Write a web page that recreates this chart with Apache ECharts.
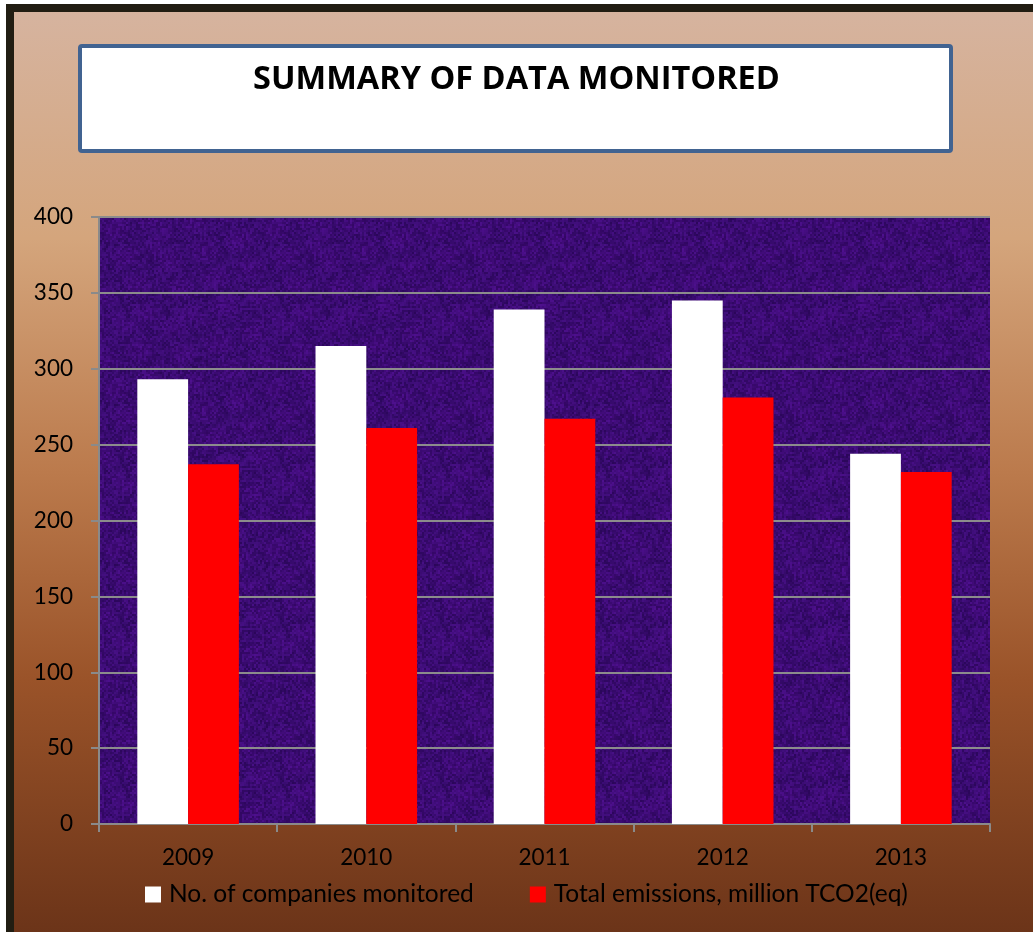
<!DOCTYPE html>
<html>
<head>
<meta charset="utf-8">
<script src="https://cdn.jsdelivr.net/npm/echarts@6/dist/echarts.min.js"></script>
<style>
  html, body { margin: 0; padding: 0; background: #ffffff; }
  #chart { width: 1033px; height: 932px; }
</style>
</head>
<body>
<div id="chart"></div>
<script>
// data
const years = ["2009", "2010", "2011", "2012", "2013"];
const companies = [293, 315, 339, 345, 244];
const emissions = [237, 261, 267, 281, 232];
const seriesNames = ["No. of companies monitored", "Total emissions, million TCO2(eq)"];

// purple "fabric" texture for the plot area (deterministic hash, decoration only)
function makeTexture() {
  const c = document.createElement("canvas");
  c.width = 160; c.height = 160;
  const ctx = c.getContext("2d");
  ctx.fillStyle = "#360b68";
  ctx.fillRect(0, 0, 160, 160);
  for (let y = 0; y < 160; y += 2) {
    for (let x = 0; x < 160; x += 2) {
      const h = Math.abs(Math.sin(x * 12.9898 + y * 78.233) * 43758.5453) % 1;
      const v = Math.abs(Math.sin(x * 0.11 + y * 0.07) + Math.cos(x * 0.05 - y * 0.13));
      const r = Math.round(35 + h * 45 + v * 8);
      const g = Math.round(4 + h * 16);
      const b = Math.round(80 + h * 70 + v * 10);
      ctx.fillStyle = "rgba(" + r + "," + g + "," + b + ",0.6)";
      ctx.fillRect(x, y, 2, 2);
    }
  }
  return c;
}

const chart = echarts.init(document.getElementById("chart"));
const labelFont = "Lato, 'Open Sans', sans-serif";

const option = {
  backgroundColor: "#ffffff",
  animation: false,
  graphic: [
    {
      type: "rect", z: -10, silent: true,
      shape: { x: 10, y: 8, width: 1040, height: 930 },
      style: {
        fill: new echarts.graphic.LinearGradient(0, 0, 0, 1, [
          { offset: 0, color: "#d6b4a0" },
          { offset: 0.25, color: "#d4a57c" },
          { offset: 0.5, color: "#bb7a4c" },
          { offset: 0.72, color: "#9a5329" },
          { offset: 1, color: "#6a3318" }
        ]),
        stroke: "#211d12", lineWidth: 8
      }
    },
    {
      type: "rect", z: 10, silent: true,
      shape: { x: 80, y: 46, width: 871, height: 105, r: 2 },
      style: { fill: "#ffffff", stroke: "#416391", lineWidth: 4 }
    },
    {
      type: "text", z: 11, silent: true,
      left: "center", top: 63,
      style: {
        text: "SUMMARY OF DATA MONITORED",
        fill: "#000000",
        font: "bold 32.5px 'Open Sans', Lato, sans-serif"
      }
    }
  ],
  grid: {
    left: 99, right: 43, top: 217, bottom: 108,
    show: true,
    borderWidth: 0,
    backgroundColor: { image: makeTexture(), repeat: "repeat" }
  },
  legend: {
    data: seriesNames,
    bottom: 20,
    left: 140,
    itemWidth: 16, itemHeight: 16, itemGap: 56,
    icon: "rect",
    textStyle: { color: "#000000", fontSize: 24.5, fontFamily: labelFont, padding: [0, 0, 0, 3] }
  },
  xAxis: {
    type: "category",
    data: years,
    axisLine: { show: true, lineStyle: { color: "#8a8a8a", width: 2 } },
    axisTick: { show: true, length: 8, alignWithLabel: false, lineStyle: { color: "#8a8a8a", width: 2 } },
    axisLabel: { color: "#000000", fontSize: 22.5, fontFamily: labelFont, margin: 22 },
    splitLine: { show: false }
  },
  yAxis: {
    type: "value",
    min: 0, max: 400, interval: 50,
    axisLine: { show: true, lineStyle: { color: "#8a8a8a", width: 2 } },
    axisTick: { show: true, inside: false, length: 8, lineStyle: { color: "#8a8a8a", width: 2 } },
    axisLabel: { color: "#000000", fontSize: 22.5, fontFamily: labelFont, margin: 26 },
    splitLine: { show: true, lineStyle: { color: "#8c8c8c", width: 2 } }
  },
  series: [
    {
      name: seriesNames[0],
      type: "bar",
      data: companies,
      barGap: "0%",
      barCategoryGap: "43%",
      itemStyle: { color: "#ffffff" }
    },
    {
      name: seriesNames[1],
      type: "bar",
      data: emissions,
      barGap: "0%",
      barCategoryGap: "43%",
      itemStyle: { color: "#ff0000" }
    }
  ]
};

chart.setOption(option);
</script>
</body>
</html>
